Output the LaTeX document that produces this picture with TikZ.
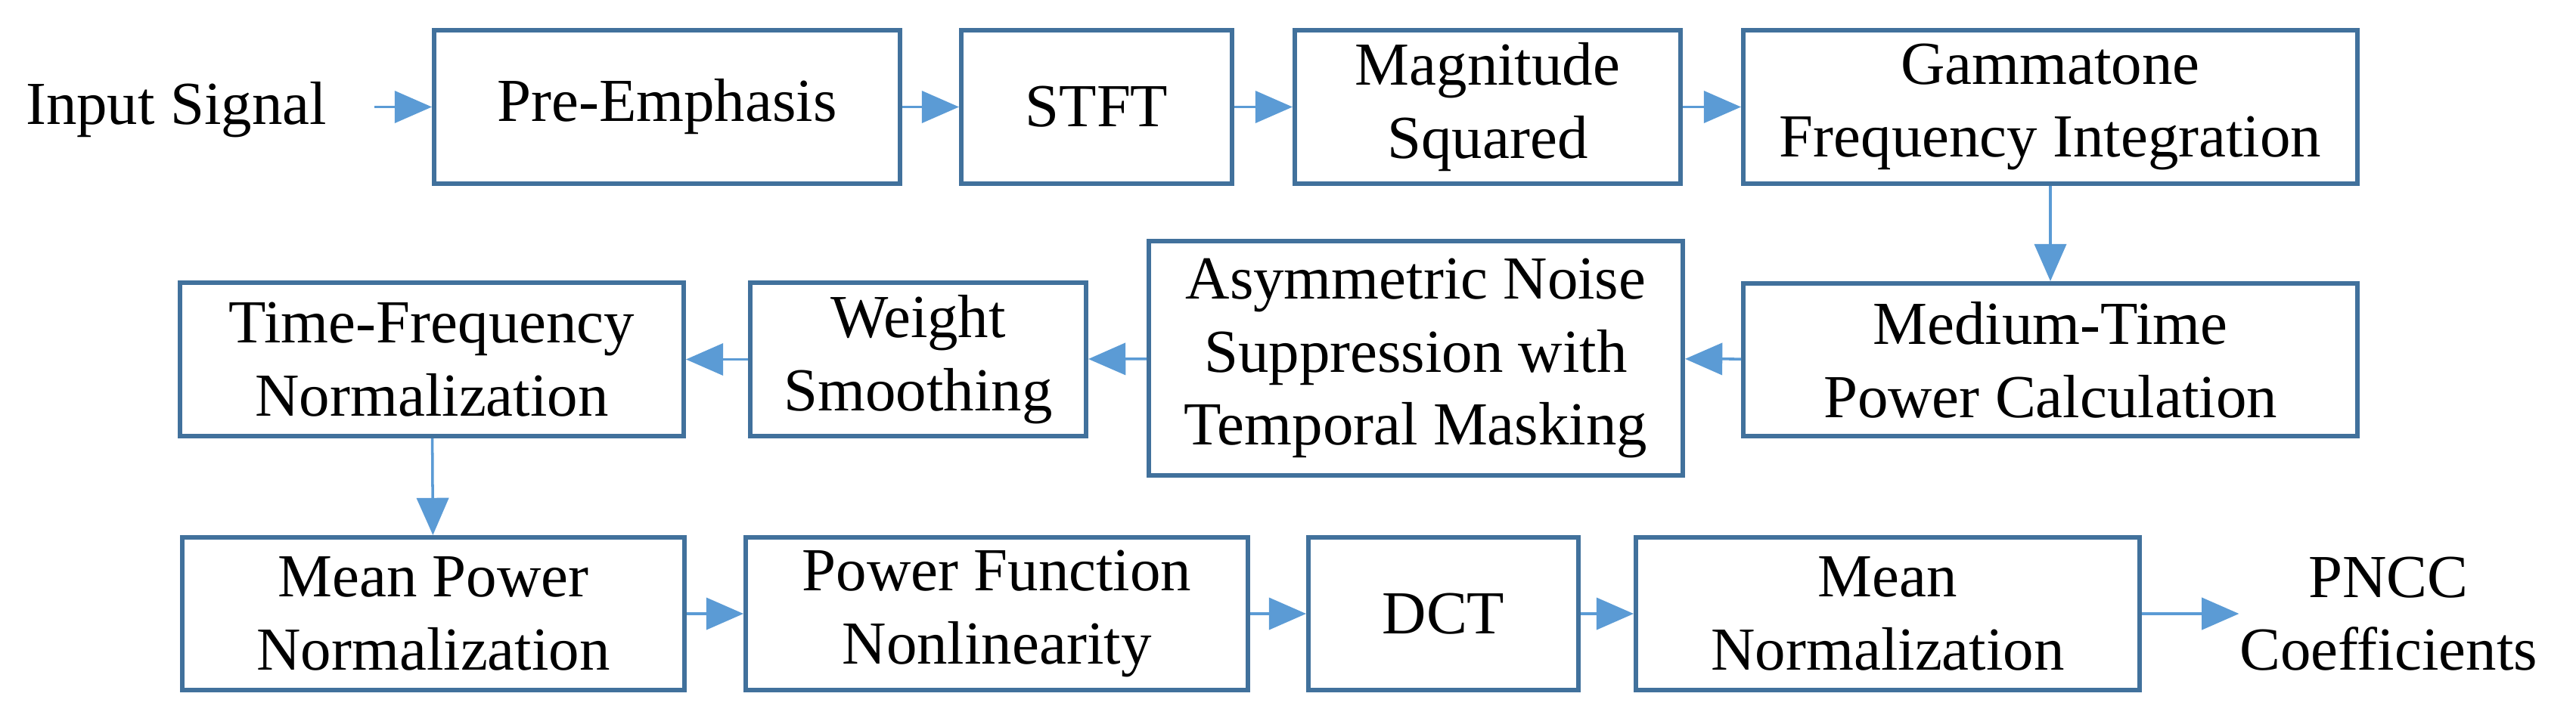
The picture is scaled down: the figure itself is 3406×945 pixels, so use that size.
\documentclass[tikz,border=0pt]{standalone}
\usepackage{fontspec}
\setmainfont{Liberation Serif}
\usetikzlibrary{arrows.meta}
\definecolor{bx}{HTML}{41719C}
\definecolor{ar}{HTML}{5B9BD5}
\begin{document}
\begin{tikzpicture}[x=0.01cm,y=-0.01cm,
  box/.style={draw=bx,line width=1.7pt,inner sep=0pt,align=center,font=\fontsize{23}{27.5}\selectfont},
  lbl/.style={inner sep=0pt,align=center,font=\fontsize{23}{27.5}\selectfont},
  arr/.style={draw=ar,line width=1pt,-{Triangle[length=14pt,width=12pt]}}]
\useasboundingbox (0,0) rectangle (3406,945);
\node[box,minimum width=622*0.01cm-1.7pt,minimum height=209*0.01cm-1.7pt] (pre) at (882,141.5) {Pre-Emphasis};
\node[box,minimum width=364*0.01cm-1.7pt,minimum height=209*0.01cm-1.7pt] (stft) at (1450,141.5) {STFT};
\node[box,minimum width=516*0.01cm-1.7pt,minimum height=209*0.01cm-1.7pt] (mag) at (1967,141.5) {Magnitude\\Squared};
\node[box,minimum width=818*0.01cm-1.7pt,minimum height=209*0.01cm-1.7pt] (gam) at (2711,141.5) {Gammatone\\Frequency Integration};
\node[box,minimum width=818*0.01cm-1.7pt,minimum height=208*0.01cm-1.7pt] (med) at (2711,476) {Medium-Time\\Power Calculation};
\node[box,minimum width=712*0.01cm-1.7pt,minimum height=316*0.01cm-1.7pt] (asy) at (1872,474) {Asymmetric Noise\\Suppression with\\Temporal Masking};
\node[box,minimum width=450*0.01cm-1.7pt,minimum height=209*0.01cm-1.7pt] (wei) at (1214,475.5) {Weight\\Smoothing};
\node[box,minimum width=672*0.01cm-1.7pt,minimum height=209*0.01cm-1.7pt] (tfn) at (571,475.5) {Time-Frequency\\Normalization};
\node[box,minimum width=670*0.01cm-1.7pt,minimum height=208*0.01cm-1.7pt] (mpn) at (573,812) {Mean Power\\Normalization};
\node[box,minimum width=670*0.01cm-1.7pt,minimum height=208*0.01cm-1.7pt] (pfn) at (1318,812) {Power Function\\Nonlinearity};
\node[box,minimum width=363*0.01cm-1.7pt,minimum height=208*0.01cm-1.7pt] (dct) at (1908.5,812) {DCT};
\node[box,minimum width=672*0.01cm-1.7pt,minimum height=208*0.01cm-1.7pt] (mn) at (2496,812) {Mean\\Normalization};
\node[lbl] (in) at (233,145) {Input Signal};
\node[lbl] (out) at (3158,812) {PNCC\\Coefficients};
\coordinate (ia) at (495,141.5);
\coordinate (oa) at (2905,812);
\draw[arr] (ia) -- (pre);
\draw[arr] (pre) -- (stft);
\draw[arr] (stft) -- (mag);
\draw[arr] (mag) -- (gam);
\draw[arr] (gam) -- (med);
\draw[arr] (med) -- (asy);
\draw[arr] (asy) -- (wei);
\draw[arr] (wei) -- (tfn);
\draw[arr] (tfn) -- (mpn);
\draw[arr] (mpn) -- (pfn);
\draw[arr] (pfn) -- (dct);
\draw[arr] (dct) -- (mn);
\draw[arr] (mn) -- (out);
\end{tikzpicture}
\end{document}
